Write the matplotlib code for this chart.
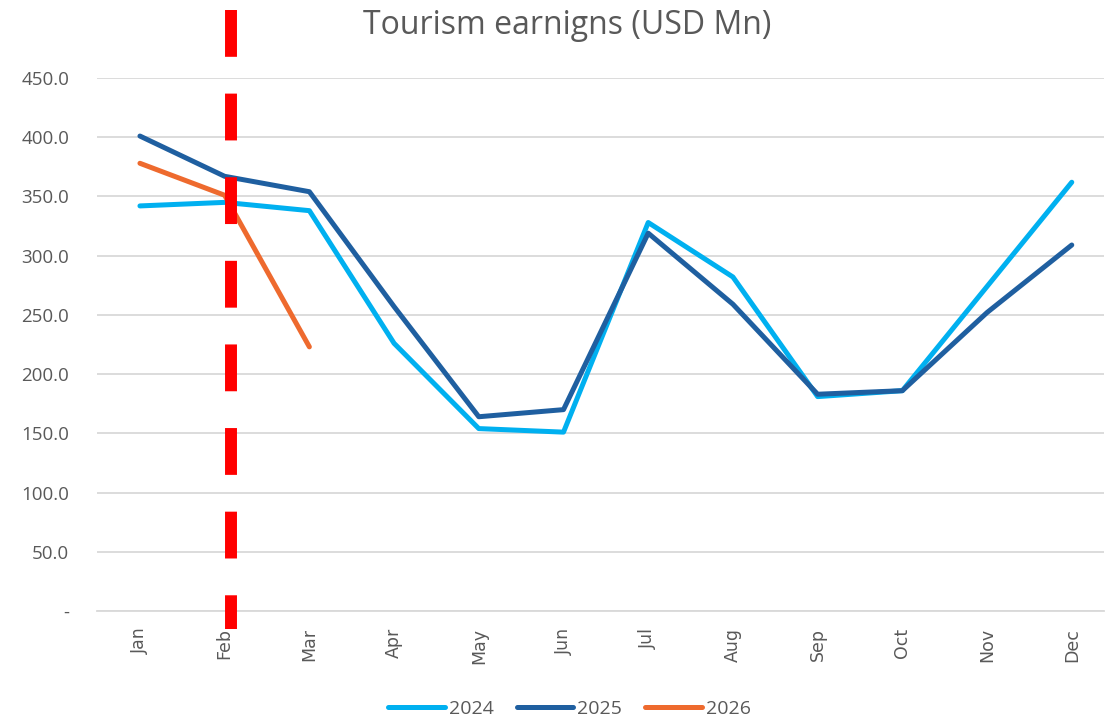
import matplotlib.pyplot as plt
from matplotlib.ticker import FuncFormatter

months = ['Jan', 'Feb', 'Mar', 'Apr', 'May', 'Jun', 'Jul', 'Aug', 'Sep', 'Oct', 'Nov', 'Dec']
earn_2024 = [342, 345, 338, 226, 154, 151, 328, 282, 181, 186, 274, 362]
earn_2025 = [401, 367, 354, 257, 164, 170, 319, 259, 183, 186, 252, 309]
earn_2026 = [378, 351, 223]
marker_month = 'Feb'

plt.rcParams['font.family'] = ['Open Sans', 'DejaVu Sans']
grey = '#595959'

fig = plt.figure(figsize=(11.06, 7.21), dpi=100)
ax = fig.add_axes([0.0877, 0.1526, 0.9103, 0.7392])

x = list(range(len(months)))
ax.plot(x, earn_2024, color='#00B0F0', lw=3.6, label='2024', solid_capstyle='round', solid_joinstyle='round')
ax.plot(x, earn_2025, color='#1F5FA0', lw=3.6, label='2025', solid_capstyle='round', solid_joinstyle='round')
ax.plot(x[:len(earn_2026)], earn_2026, color='#EE6A2E', lw=3.6, label='2026', solid_capstyle='round', solid_joinstyle='round')

# red dashed marker line (hand-drawn shape, sits a bit right of the Feb tick)
ax.axvline(months.index(marker_month) + 0.08, ymin=1.1276, ymax=-0.034, color='#FF0000', lw=8.6,
           linestyle=(0, (3.92, 3.08)), clip_on=False, zorder=5)

ax.set_xlim(-0.507, 11.378)
ax.set_ylim(0, 450)
ax.set_yticks(range(0, 451, 50))
ax.yaxis.set_major_formatter(FuncFormatter(lambda v, p: '-' if v == 0 else f'{v:.1f}'))
ax.set_xticks(x)
ax.set_xticklabels(months, rotation=90, family='DejaVu Sans')

ax.grid(axis='y', color='#D9D9D9', lw=1.3)
ax.set_axisbelow(True)
for s in ['top', 'right', 'left']:
    ax.spines[s].set_visible(False)
ax.spines['bottom'].set_color('#D9D9D9')
ax.spines['bottom'].set_linewidth(1.3)
ax.tick_params(axis='both', length=0, colors=grey, labelsize=13.5)
ax.tick_params(axis='y', pad=20)
ax.tick_params(axis='x', pad=12, labelsize=12.5)

fig.text(0.513, 0.965, 'Tourism earnigns (USD Mn)', ha='center', va='center', fontsize=23, color=grey)
fig.legend(loc='center', bbox_to_anchor=(0.515, 0.017), ncol=3, frameon=False,
           fontsize=14, handlelength=2.9, columnspacing=1.2, handletextpad=0.2, labelcolor=grey)

fig.savefig('out.png', dpi=100)
